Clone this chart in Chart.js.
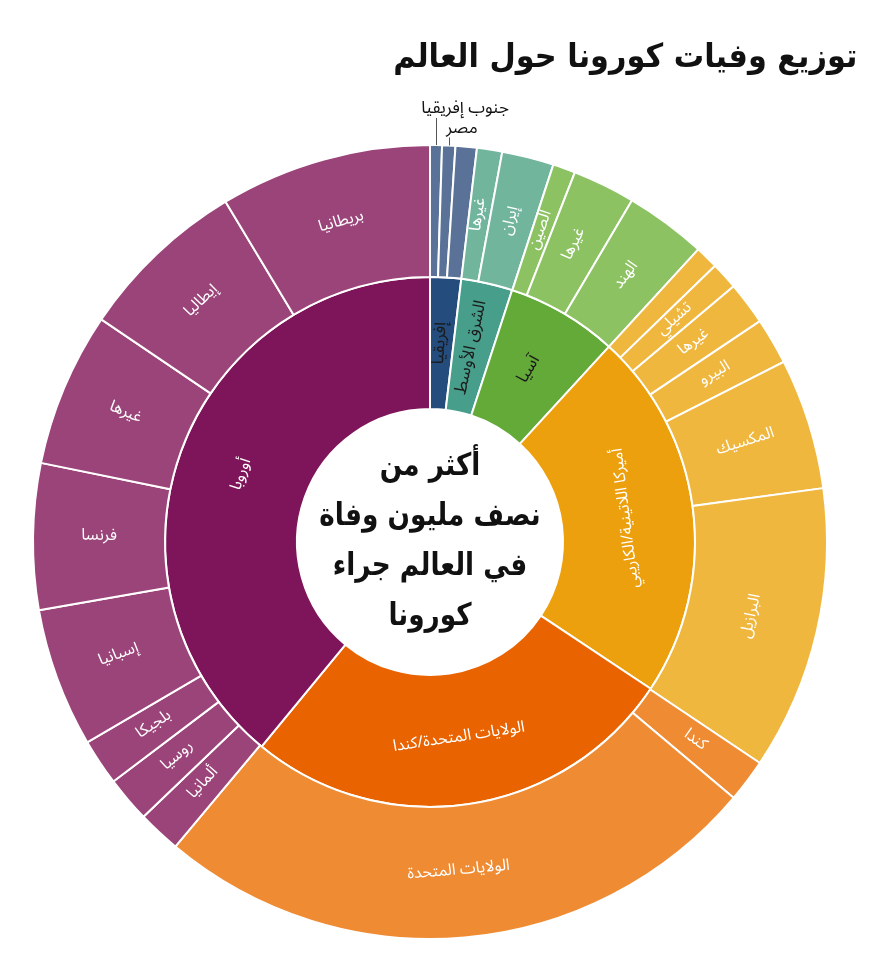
<!DOCTYPE html>
<html lang="ar">
<head>
<meta charset="utf-8">
<title>توزيع وفيات كورونا حول العالم</title>
<script src="https://cdn.jsdelivr.net/npm/chart.js@4.4.1/dist/chart.umd.min.js"></script>
<style>
  html, body { margin: 0; padding: 0; background: #fff; }
  #wrap { position: relative; width: 885px; height: 960px; }
  #titre { position: absolute; right: 28px; top: 36px; margin: 0; font: bold 33px 'DejaVu Sans', sans-serif; color: #111; direction: rtl; white-space: nowrap; transform: scaleX(0.92); transform-origin: right center; }
  canvas { position: absolute; left: 0; top: 0; }
</style>
</head>
<body>
<div id="wrap">
  <canvas id="chartVefiyat" width="885" height="960"></canvas>
  <h1 id="titre">توزيع وفيات كورونا حول العالم</h1>
</div>
<script>
// الحلقة الداخلية: المناطق
const regions = ['إفريقيا', 'الشرق الأوسط', 'آسيا', 'أميركا اللاتينية/الكاريبي', 'الولايات المتحدة/كندا', 'أوروبا'];
const regionDeaths = [9250, 15370, 33300, 110580, 130670, 191530];

// الحلقة الخارجية: الدول (بنفس ترتيب المناطق)
const countries = [
  'جنوب إفريقيا', 'مصر', '',
  'غيرها', 'إيران',
  'الصين', 'غيرها', 'الهند',
  '', 'تشيلي', 'غيرها', 'البيرو', 'المكسيك', 'البرازيل',
  'كندا', 'الولايات المتحدة',
  'ألمانيا', 'روسيا', 'بلجيكا', 'إسبانيا', 'فرنسا', 'غيرها', 'إيطاليا', 'بريطانيا'
];
const countryDeaths = [
  2370, 2640, 4240,
  5030, 10340,
  4490, 12500, 16200,
  4620, 5440, 8570, 9250, 26100, 56600,
  8570, 122100,
  8570, 9110, 9250, 27740, 29100, 30740, 33860, 42160
];
const countryRegion = [0, 0, 0, 1, 1, 2, 2, 2, 3, 3, 3, 3, 3, 3, 4, 4, 5, 5, 5, 5, 5, 5, 5, 5];

const centerLines = ['أكثر من', 'نصف مليون وفاة', 'في العالم جراء', 'كورونا'];

// الألوان والتنسيق
const regionColors = ['#244d7e', '#479e8b', '#64aa38', '#eda00e', '#e96400', '#7e1459'];
const countryColors = ['#5a7298', '#71b59d', '#8cc262', '#f0b73f', '#ee8b33', '#9b4479'];
const tangentialLabels = ['أوروبا', 'أميركا اللاتينية/الكاريبي', 'الولايات المتحدة/كندا', 'البرازيل', 'الولايات المتحدة', 'إيطاليا', 'بريطانيا'];
const darkLabels = ['إفريقيا', 'الشرق الأوسط', 'آسيا'];
const outsideLabels = {
  'جنوب إفريقيا': { rise: 27, dx: 29, dy: 35 },
  'مصر': { rise: 8, dx: 13, dy: 15 }
};
const arabicFont = "'Noto Sans Arabic', 'DejaVu Sans', sans-serif";

const sunburstLabels = {
  id: 'sunburstLabels',
  afterDatasetsDraw(chart) {
    const ctx = chart.ctx;
    const rings = [countries, regions];
    chart.data.datasets.forEach((ds, di) => {
      chart.getDatasetMeta(di).data.forEach((arc, i) => {
        const name = rings[di][i];
        if (!name) return;
        const p = arc.getProps(['x', 'y', 'startAngle', 'endAngle', 'innerRadius', 'outerRadius'], true);
        const mid = (p.startAngle + p.endAngle) / 2;
        ctx.save();
        ctx.textAlign = 'center';
        ctx.textBaseline = 'middle';
        ctx.direction = 'rtl';

        if (di === 0 && outsideLabels[name]) {
          const o = outsideLabels[name];
          const px = p.x + p.outerRadius * Math.cos(mid);
          const py = p.y + p.outerRadius * Math.sin(mid);
          ctx.strokeStyle = '#555';
          ctx.lineWidth = 1;
          ctx.beginPath();
          ctx.moveTo(Math.round(px) + 0.5, py);
          ctx.lineTo(Math.round(px) + 0.5, py - o.rise);
          ctx.stroke();
          ctx.fillStyle = '#111';
          ctx.font = '17px ' + arabicFont;
          ctx.fillText(name, px + o.dx, py - o.dy);
          ctx.restore();
          return;
        }

        const r = (p.innerRadius + p.outerRadius) / 2;
        const deg = ((mid * 180 / Math.PI) + 90 + 720) % 360;
        let rot;
        if (tangentialLabels.includes(name)) {
          rot = deg < 180 ? deg - 180 : deg - 360;
        } else {
          rot = deg < 180 ? deg - 90 : deg - 270;
        }
        ctx.translate(p.x + r * Math.cos(mid), p.y + r * Math.sin(mid));
        ctx.rotate(rot * Math.PI / 180);
        const dark = darkLabels.includes(name);
        ctx.fillStyle = dark ? '#1a1a1a' : '#ffffff';
        ctx.font = (dark ? '17px ' : '16px ') + arabicFont;
        ctx.fillText(name, 0, 0);
        ctx.restore();
      });
    });
  },
  afterDraw(chart) {
    const ctx = chart.ctx;
    const arc = chart.getDatasetMeta(1).data[0];
    ctx.save();
    ctx.textAlign = 'center';
    ctx.textBaseline = 'middle';
    ctx.direction = 'rtl';
    ctx.fillStyle = '#111';
    ctx.font = "bold 31px 'DejaVu Sans', sans-serif";
    ctx.translate(arc.x, arc.y);
    ctx.scale(0.85, 1);
    centerLines.forEach((line, k) => {
      ctx.fillText(line, 0, -75 + k * 50);
    });
    ctx.restore();
  }
};

const ctxVefiyat = document.getElementById('chartVefiyat').getContext('2d');
const vefiyatChart = new Chart(ctxVefiyat, {
  type: 'doughnut',
  data: {
    labels: countries,
    datasets: [
      {
        label: 'الدول',
        data: countryDeaths,
        backgroundColor: countryRegion.map(g => countryColors[g]),
        borderColor: '#ffffff',
        borderWidth: 2
      },
      {
        label: 'المناطق',
        data: regionDeaths,
        backgroundColor: regionColors,
        borderColor: '#ffffff',
        borderWidth: 2
      }
    ]
  },
  options: {
    responsive: false,
    animation: false,
    radius: 397,
    cutout: '33.5%',
    hoverOffset: 0,
    layout: { padding: { left: 33, right: 58, top: 145, bottom: 21 } },
    plugins: {
      legend: { display: false },
      tooltip: { enabled: false }
    }
  },
  plugins: [sunburstLabels]
});
</script>
</body>
</html>
